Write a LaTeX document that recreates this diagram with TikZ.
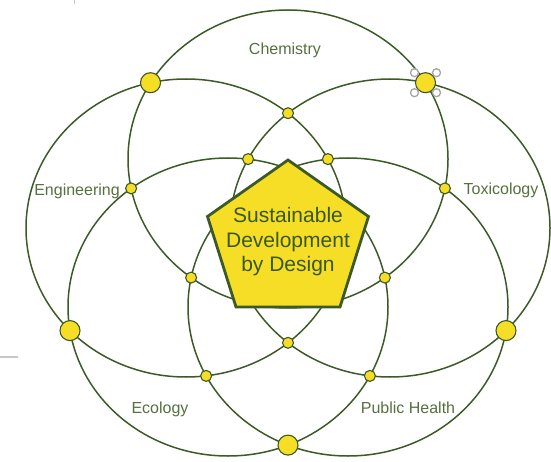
\documentclass[tikz,border=0pt]{standalone}
\usepackage{fontspec}
\setmainfont{Liberation Sans}
\usepackage{tikz}
\usetikzlibrary{positioning}
\definecolor{sdline}{RGB}{60,90,38}
\definecolor{sdfill}{RGB}{247,222,38}
\definecolor{sdtext}{RGB}{86,112,62}
\definecolor{sdink}{RGB}{56,88,30}
\definecolor{sdgrip}{RGB}{165,165,165}
\definecolor{sdrule}{RGB}{200,200,200}
\tikzset{
  ring/.style={draw=sdline, line width=1.5pt},
  bigdot/.style={
    circle, draw=sdline, fill=sdfill, line width=1.1pt,
    minimum size=20pt, inner sep=0pt
  },
  smalldot/.style={bigdot, minimum size=11pt},
  core/.style={draw=sdline, fill=sdfill, line width=2.8pt, line join=miter},
  field/.style={font=\fontsize{16}{19}\selectfont, text=sdtext, inner sep=0pt},
  title/.style={
    font=\fontsize{21}{24.5}\selectfont, text=sdink,
    align=center, inner sep=0pt
  },
  grip/.style={
    circle, draw=sdgrip, fill=white, line width=1.3pt,
    minimum size=8pt, inner sep=0pt
  },
  every picture/.append style={x=1pt, y=-1pt}
}

\begin{document}
\begin{tikzpicture}
  \useasboundingbox (0,0) rectangle (551,462);
  \coordinate (chem) at (288,159);
  \coordinate (eng) at (186,228);
  \coordinate (tox) at (390,228);
  \coordinate (eco) at (228,307);
  \coordinate (pub) at (348,307);
  \foreach \c in {chem,eng,tox,eco,pub}
    \draw[ring] (\c) ellipse [x radius=160pt, y radius=149pt];
  \coordinate (p1) at (288,160);
  \coordinate (p2) at (368.5,216.5);
  \coordinate (p3) at (340,307);
  \coordinate (p4) at (236,307);
  \coordinate (p5) at (207.5,216.5);
  \draw[core] (p1) -- (p2) -- (p3) -- (p4) -- (p5) -- cycle;
  \node[title] (sdd) at (288,242) {Sustainable\\Development\\by Design};
  % outer crossings
  \node[bigdot] (ce) at (150.5,82.7) {};
  \node[bigdot] (ct) at (425.5,82.7) {};
  \node[bigdot] (ee) at (70,330.6) {};
  \node[bigdot] (tp) at (506,330.6) {};
  \node[bigdot] (ep) at (288,445.1) {};
  % inner crossings
  \node[smalldot] (ett) at (288,113.2) {};
  \node[smalldot] (etb) at (288,342.8) {};
  \node[smalldot] (ecl) at (131.1,188.4) {};
  \node[smalldot] (ecr) at (384.9,277.6) {};
  \node[smalldot] (cpl) at (191.1,277.6) {};
  \node[smalldot] (cpr) at (444.9,188.4) {};
  \node[smalldot] (tet) at (248.1,159.1) {};
  \node[smalldot] (teb) at (369.9,375.9) {};
  \node[smalldot] (ept) at (327.9,159.1) {};
  \node[smalldot] (epb) at (206.1,375.9) {};
  \node[field] (chemlab) at (285,50) {Chemistry};
  \node[field] (englab) at (77,191) {Engineering};
  \node[field] (toxlab) at (501,190) {Toxicology};
  \node[field] (ecolab) at (160,409) {Ecology};
  \node[field] (publab) at (408,408) {Public Health};
  \node[grip] (g1) at ([shift={(-11,-10)}]ct) {};
  \node[grip] (g2) at ([shift={(11,-10)}]ct) {};
  \node[grip] (g3) at ([shift={(-11,10)}]ct) {};
  \node[grip] (g4) at ([shift={(11,10)}]ct) {};
  \draw[sdrule, line width=1.5pt] (0,357) -- (18,357);
  \draw[sdrule, line width=1.2pt] (74.5,0) -- (74.5,4);
\end{tikzpicture}
\end{document}
